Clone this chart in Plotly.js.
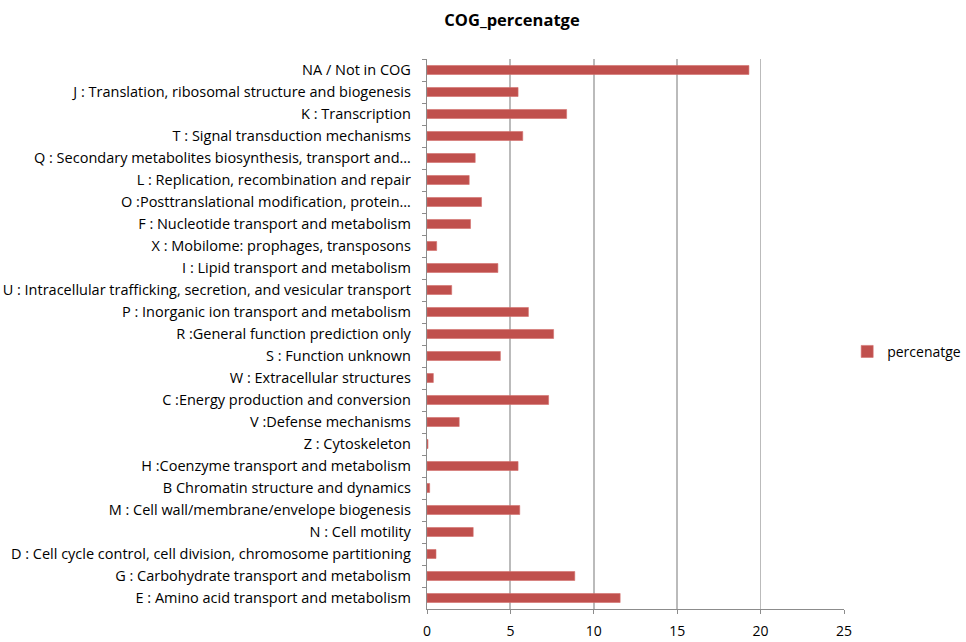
<!DOCTYPE html>
<html>
<head>
<meta charset="utf-8">
<script src="https://cdn.plot.ly/plotly-3.0.1.min.js"></script>
<style>
  html, body { margin: 0; padding: 0; background: #ffffff; }
  #chart { width: 966px; height: 642px; }
</style>
</head>
<body>
<div id="chart"></div>
<script>
// COG functional categories, listed top to bottom
const categories = [
  "NA / Not in COG",
  "J : Translation, ribosomal structure and biogenesis",
  "K : Transcription",
  "T : Signal transduction mechanisms",
  "Q : Secondary metabolites biosynthesis, transport and…",
  "L : Replication, recombination and repair",
  "O :Posttranslational modification, protein…",
  "F : Nucleotide transport and metabolism",
  "X : Mobilome: prophages, transposons",
  "I : Lipid transport and metabolism",
  "U : Intracellular trafficking, secretion, and vesicular transport",
  "P : Inorganic ion transport and metabolism",
  "R :General function prediction only",
  "S : Function unknown",
  "W : Extracellular structures",
  "C :Energy production and conversion",
  "V :Defense mechanisms",
  "Z : Cytoskeleton",
  "H :Coenzyme transport and metabolism",
  "B Chromatin structure and dynamics",
  "M : Cell wall/membrane/envelope biogenesis",
  "N : Cell motility",
  "D : Cell cycle control, cell division, chromosome partitioning",
  "G : Carbohydrate transport and metabolism",
  "E : Amino acid transport and metabolism"
];

// percentage of genes in each category
const percentages = [
  19.3, 5.46, 8.37, 5.74, 2.89, 2.53, 3.27, 2.61, 0.58,
  4.25, 1.48, 6.08, 7.59, 4.40, 0.38, 7.29, 1.93, 0.06,
  5.46, 0.16, 5.56, 2.77, 0.54, 8.86, 11.58
];

const seriesName = "percenatge";
const xTicks = [0, 5, 10, 15, 20, 25];

const FONT = "'Open Sans', 'Noto Sans', sans-serif";
const AXIS_GREY = "#8C8C8C";

const trace = {
  type: "bar",
  orientation: "h",
  name: seriesName,
  x: percentages,
  y: categories,
  marker: { color: "#C0504D", line: { color: "#D46E6B", width: 0.6 } },
  showlegend: true,
  hoverinfo: "x+y"
};

const layout = {
  width: 966,
  height: 642,
  paper_bgcolor: "#ffffff",
  plot_bgcolor: "#ffffff",
  margin: { l: 427, r: 122, t: 59, b: 33, pad: 0 },
  title: {
    text: "<b>COG_percenatge</b>",
    font: { family: FONT, size: 16.5, color: "#000000" },
    x: 0.53, xanchor: "center",
    y: 0.969, yanchor: "middle"
  },
  bargap: 0.59,
  xaxis: {
    range: [0, 25],
    tickvals: xTicks,
    ticktext: xTicks.map(String),
    showgrid: true,
    gridcolor: "#BBBBBB",
    gridwidth: 1.8,
    zeroline: false,
    showline: true,
    linecolor: AXIS_GREY,
    linewidth: 1.2,
    ticks: "outside",
    ticklen: 4,
    tickcolor: AXIS_GREY,
    ticklabelstandoff: 5,
    tickfont: { family: FONT, size: 14, color: "#000000" },
    fixedrange: true
  },
  yaxis: {
    autorange: "reversed",
    type: "category",
    showgrid: false,
    zeroline: false,
    showline: true,
    linecolor: AXIS_GREY,
    linewidth: 1.2,
    ticks: "outside",
    tickson: "boundaries",
    ticklen: 4,
    tickcolor: AXIS_GREY,
    ticklabelstandoff: 12,
    tickfont: { family: FONT, size: 14.5, color: "#000000" },
    fixedrange: true
  },
  showlegend: true,
  legend: {
    xref: "container", yref: "container",
    x: 0.877, xanchor: "left",
    y: 0.452, yanchor: "middle",
    font: { family: FONT, size: 14, color: "#000000" },
    itemwidth: 30,
    bgcolor: "rgba(0,0,0,0)"
  }
};

Plotly.newPlot("chart", [trace], layout, { displayModeBar: false, staticPlot: true });
</script>
</body>
</html>
